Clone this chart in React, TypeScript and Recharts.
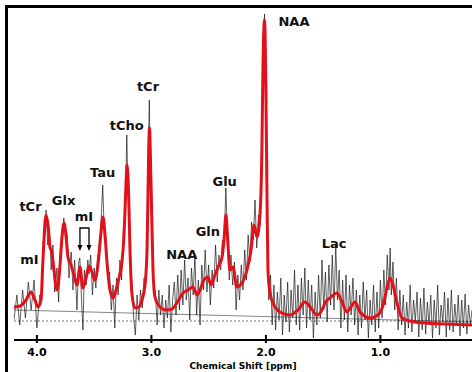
import { LineChart, Line, XAxis, YAxis, ReferenceDot } from "recharts";

// chemical shift (ppm) vs signal (a.u.)
const FIT: [number, number][] = [
  [4.2, 33], [4.148, 34], [4.095, 40], [4.052, 48], [4.017, 40], [3.99, 33],
  [3.964, 40], [3.947, 80], [3.921, 125], [3.903, 115], [3.886, 93], [3.868, 87],
  [3.851, 70], [3.824, 50], [3.798, 75], [3.781, 103], [3.763, 117], [3.746, 105],
  [3.729, 83], [3.702, 75], [3.676, 65], [3.65, 55], [3.624, 73], [3.598, 52],
  [3.571, 62], [3.545, 74], [3.519, 68], [3.493, 60], [3.467, 75], [3.44, 108],
  [3.423, 123], [3.405, 105], [3.388, 78], [3.362, 50], [3.335, 42], [3.309, 50],
  [3.283, 62], [3.257, 78], [3.239, 105], [3.222, 155], [3.213, 175], [3.2, 150],
  [3.187, 90], [3.169, 45], [3.143, 32], [3.108, 33], [3.082, 40], [3.056, 55],
  [3.038, 90], [3.025, 180], [3.017, 212], [3.004, 160], [2.986, 70], [2.969, 43],
  [2.925, 33], [2.872, 30], [2.82, 31], [2.768, 39], [2.724, 47], [2.68, 50],
  [2.637, 53], [2.602, 45], [2.576, 50], [2.541, 60], [2.506, 63], [2.48, 55],
  [2.445, 65], [2.41, 75], [2.384, 82], [2.366, 100], [2.349, 125], [2.331, 95],
  [2.314, 70], [2.288, 73], [2.253, 53], [2.209, 57], [2.165, 70], [2.13, 90],
  [2.104, 115], [2.078, 103], [2.052, 125], [2.035, 190], [2.026, 270], [2.012, 320],
  [2.0, 250], [1.99, 140], [1.982, 70], [1.964, 47], [1.938, 37], [1.877, 28],
  [1.79, 25], [1.72, 30], [1.659, 38], [1.606, 32], [1.554, 25], [1.51, 30],
  [1.484, 37], [1.44, 42], [1.379, 47], [1.335, 38], [1.292, 28], [1.257, 33],
  [1.222, 38], [1.178, 28], [1.091, 22], [1.021, 25], [0.969, 38], [0.943, 52],
  [0.916, 62], [0.89, 55], [0.855, 37], [0.811, 22], [0.741, 19], [0.61, 17],
  [0.436, 16], [0.2, 15],
];

const RAW: [number, number][] = [
  [4.2, 20], [4.175, 45], [4.15, 15], [4.125, 50], [4.1, 22], [4.075, 58], [4.05, 30],
  [4.025, 60], [4.0, 12], [3.975, 45], [3.96, 40], [3.945, 98], [3.93, 105], [3.92, 130],
  [3.905, 95], [3.89, 112], [3.875, 70], [3.86, 95], [3.845, 48], [3.825, 72], [3.81, 38],
  [3.795, 90], [3.78, 95], [3.765, 122], [3.75, 100], [3.735, 105], [3.72, 62], [3.7, 88],
  [3.685, 50], [3.67, 80], [3.65, 30], [3.635, 78], [3.625, 82], [3.61, 40], [3.598, 10],
  [3.585, 70], [3.57, 55], [3.555, 80], [3.545, 66], [3.53, 85], [3.515, 45], [3.5, 72],
  [3.485, 52], [3.47, 85], [3.455, 80], [3.44, 118], [3.425, 155], [3.41, 100], [3.395, 95],
  [3.38, 60], [3.365, 68], [3.35, 30], [3.335, 55], [3.32, 12], [3.305, 62], [3.29, 45],
  [3.275, 80], [3.26, 60], [3.245, 110], [3.23, 120], [3.215, 205], [3.205, 150], [3.195, 140],
  [3.185, 80], [3.17, 55], [3.155, 22], [3.14, 5], [3.125, 45], [3.11, 20], [3.095, 50],
  [3.08, 32], [3.065, 62], [3.05, 58], [3.038, 95], [3.027, 190], [3.018, 240], [3.008, 160],
  [2.995, 110], [2.98, 55], [2.965, 48], [2.95, 15], [2.935, 50], [2.92, 25], [2.905, 45],
  [2.89, 12], [2.875, 40], [2.86, 22], [2.845, 55], [2.83, 8], [2.815, 40], [2.8, 58],
  [2.785, 25], [2.77, 65], [2.755, 30], [2.74, 70], [2.725, 35], [2.71, 80], [2.695, 40],
  [2.68, 62], [2.665, 20], [2.65, 72], [2.635, 45], [2.62, 85], [2.605, 25], [2.59, 60],
  [2.575, 15], [2.56, 75], [2.545, 50], [2.53, 90], [2.515, 48], [2.5, 75], [2.485, 35],
  [2.47, 70], [2.455, 52], [2.44, 95], [2.425, 58], [2.41, 85], [2.395, 70], [2.38, 100],
  [2.365, 95], [2.35, 152], [2.335, 105], [2.32, 60], [2.305, 85], [2.29, 55], [2.275, 78],
  [2.26, 30], [2.245, 65], [2.23, 40], [2.215, 75], [2.2, 50], [2.185, 90], [2.17, 60],
  [2.155, 105], [2.14, 78], [2.125, 118], [2.11, 100], [2.095, 140], [2.08, 92], [2.065, 125],
  [2.05, 115], [2.04, 175], [2.03, 255], [2.02, 300], [2.012, 326], [2.004, 270], [1.995, 190],
  [1.985, 100], [1.975, 40], [1.96, 65], [1.945, 15], [1.93, 55], [1.915, 10], [1.9, 48],
  [1.885, 20], [1.87, 62], [1.855, 5], [1.84, 45], [1.825, 18], [1.81, 58], [1.795, 8],
  [1.78, 50], [1.765, 22], [1.75, 70], [1.735, 15], [1.72, 55], [1.705, 10], [1.69, 62],
  [1.675, 25], [1.66, 72], [1.645, 12], [1.63, 60], [1.615, 20], [1.6, 55], [1.585, 2],
  [1.57, 48], [1.555, 15], [1.54, 65], [1.525, 22], [1.51, 80], [1.495, 30], [1.48, 68],
  [1.465, 18], [1.45, 75], [1.435, 35], [1.42, 85], [1.405, 30], [1.39, 95], [1.375, 40],
  [1.36, 70], [1.345, 12], [1.33, 60], [1.315, 20], [1.3, 65], [1.285, 8], [1.27, 55],
  [1.255, 25], [1.24, 62], [1.225, 15], [1.21, 50], [1.195, 5], [1.18, 45], [1.165, 12],
  [1.15, 58], [1.135, 20], [1.12, 50], [1.105, 2], [1.09, 40], [1.075, 15], [1.06, 55],
  [1.045, 8], [1.03, 48], [1.015, 12], [1.0, 60], [0.985, 22], [0.97, 70], [0.955, 35],
  [0.94, 85], [0.925, 50], [0.915, 92], [0.905, 45], [0.89, 78], [0.875, 30], [0.86, 62],
  [0.845, 10], [0.83, 50], [0.815, 15], [0.8, 45], [0.785, 5], [0.77, 38], [0.755, 12],
  [0.74, 55], [0.725, 8], [0.71, 40], [0.695, 18], [0.68, 48], [0.665, 3], [0.65, 42],
  [0.635, 10], [0.62, 52], [0.605, 6], [0.59, 38], [0.575, 15], [0.56, 45], [0.545, 2],
  [0.53, 40], [0.515, 12], [0.5, 55], [0.485, 5], [0.47, 35], [0.455, 18], [0.44, 48],
  [0.425, 3], [0.41, 42], [0.395, 10], [0.38, 50], [0.365, 8], [0.35, 36], [0.335, 14],
  [0.32, 45], [0.305, 4], [0.29, 40], [0.275, 12], [0.26, 46], [0.245, 6], [0.23, 35],
  [0.215, 15], [0.2, 30],
];

const BASELINE: [number, number][] = [[4.2, 30], [0.2, 18]];
const ZERO_LINE: [number, number][] = [[4.2, 19], [0.2, 19]];

const PEAK_LABELS: { name: string; ppm: number; v: number }[] = [
  { name: "NAA", ppm: 1.755, v: 319 },
  { name: "tCr", ppm: 3.03, v: 254 },
  { name: "tCho", ppm: 3.216, v: 215 },
  { name: "Tau", ppm: 3.426, v: 168 },
  { name: "tCr", ppm: 4.056, v: 134 },
  { name: "Glx", ppm: 3.767, v: 140 },
  { name: "mI", ppm: 3.59, v: 124 },
  { name: "mI", ppm: 4.065, v: 81 },
  { name: "NAA", ppm: 2.735, v: 86 },
  { name: "Gln", ppm: 2.507, v: 109 },
  { name: "Glu", ppm: 2.36, v: 159 },
  { name: "Lac", ppm: 1.405, v: 97 },
];

const MI_BRACKET: [number, number][] = [[3.624, 92], [3.624, 112], [3.545, 112], [3.545, 92]];
const MI_ARROWS = [3.624, 3.545];
const TICKS = [1, 2, 3, 4];

const toPts = (arr: [number, number][]) => arr.map(([ppm, v]) => ({ ppm, v }));

const FONT = "DejaVu Sans";

const PpmTick = ({ x, y, payload }: any) => (
  <g>
    <line x1={x} x2={x} y1={y - 5} y2={y + 3} stroke="#000" strokeWidth={2} />
    <text x={x} y={y + 16} textAnchor="middle" fontSize={11} fontWeight="bold" fontFamily={FONT} fill="#000">
      {Number(payload.value).toFixed(1)}
    </text>
  </g>
);

const App: React.FC = () => {
  return (
    <div style={{ position: "absolute", left: 0, top: 0, width: 472, height: 372 }}>
      <div
        style={{
          position: "absolute",
          left: 5,
          top: 5,
          width: 467,
          height: 367,
          borderTop: "3px solid #000",
          borderLeft: "3px solid #000",
          boxSizing: "border-box",
        }}
      />
      <div style={{ position: "absolute", left: 0, top: 0 }}>
        <LineChart width={472} height={372} margin={{ top: 7, right: 0, left: 14, bottom: 0 }}>
          <XAxis
            type="number"
            dataKey="ppm"
            domain={[0.2, 4.2]}
            reversed
            allowDataOverflow
            ticks={TICKS}
            height={32}
            tickSize={0}
            tickMargin={0}
            tickLine={false}
            axisLine={{ stroke: "#000", strokeWidth: 2 }}
            tick={<PpmTick />}
            label={{
              value: "Chemical Shift [ppm]",
              position: "insideBottom",
              offset: 3,
              style: { fontFamily: FONT, fontSize: 9, fontWeight: "bold", fill: "#000" },
            }}
          />
          <YAxis hide type="number" dataKey="v" domain={[0, 333]} allowDataOverflow />
          <Line
            data={toPts(BASELINE)}
            dataKey="v"
            stroke="#666"
            strokeWidth={0.8}
            dot={false}
            isAnimationActive={false}
          />
          <Line
            data={toPts(ZERO_LINE)}
            dataKey="v"
            stroke="#555"
            strokeWidth={0.8}
            strokeDasharray="2 2"
            dot={false}
            isAnimationActive={false}
          />
          <Line
            data={toPts(RAW)}
            dataKey="v"
            type="linear"
            stroke="#151515"
            strokeWidth={0.75}
            strokeOpacity={0.9}
            dot={false}
            isAnimationActive={false}
          />
          <Line
            data={toPts(FIT)}
            dataKey="v"
            type="monotone"
            stroke="#e3101a"
            strokeWidth={3}
            dot={false}
            isAnimationActive={false}
          />
          <Line
            data={toPts(MI_BRACKET)}
            dataKey="v"
            type="linear"
            stroke="#000"
            strokeWidth={1.3}
            dot={false}
            isAnimationActive={false}
          />
          {MI_ARROWS.map((p, i) => (
            <ReferenceDot
              key={"arr" + i}
              x={p}
              y={89}
              r={0}
              shape={(props: any) => (
                <path
                  d={`M${props.cx - 2.5},${props.cy - 6} L${props.cx + 2.5},${props.cy - 6} L${props.cx},${props.cy} Z`}
                  fill="#000"
                />
              )}
            />
          ))}
          {PEAK_LABELS.map((l, i) => (
            <ReferenceDot
              key={"lbl" + i}
              x={l.ppm}
              y={l.v}
              r={0}
              shape={(props: any) => (
                <text
                  x={props.cx}
                  y={props.cy}
                  textAnchor="middle"
                  dominantBaseline="central"
                  fontFamily={FONT}
                  fontSize={13}
                  fontWeight="bold"
                  fill="#111"
                >
                  {l.name}
                </text>
              )}
            />
          ))}
        </LineChart>
      </div>
    </div>
  );
};

export default App;
